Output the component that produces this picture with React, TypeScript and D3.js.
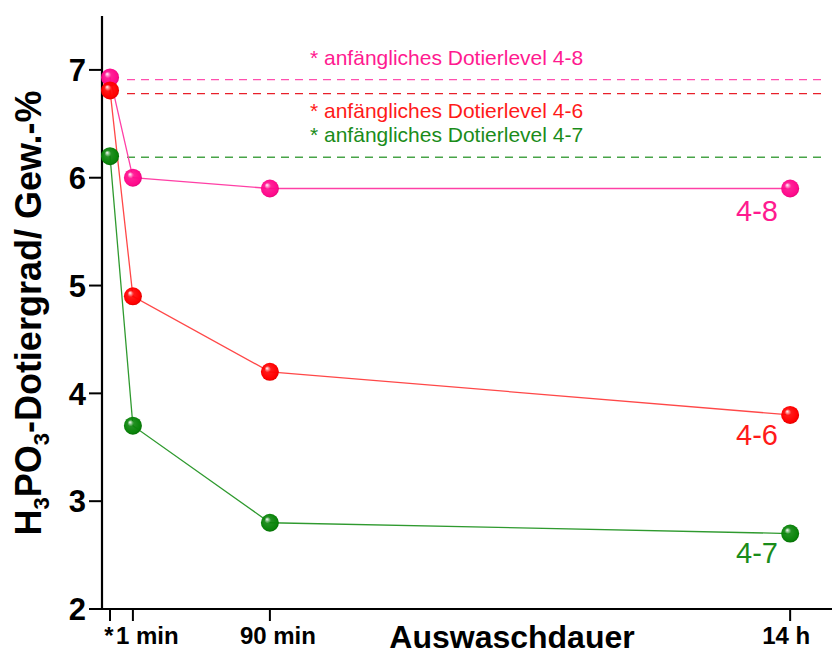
import React from "react";
import * as d3 from "d3";

const W = 832;
const H = 654;

// x positions (axis units) for each time step
const xPositions = [0.33, 1.27, 6.9, 28.28];
const xTickLabels = ["*", "1 min", "90 min", "14 h"];
const yTicks = [2, 3, 4, 5, 6, 7];

const seriesNames = ["4-8", "4-6", "4-7"];
const values48 = [6.93, 6.0, 5.9, 5.9];
const values46 = [6.81, 4.9, 4.2, 3.8];
const values47 = [6.2, 3.7, 2.8, 2.7];
const initialLevels = [6.91, 6.78, 6.19];
const annotationTexts = [
  "* anfängliches Dotierlevel 4-8",
  "* anfängliches Dotierlevel 4-6",
  "* anfängliches Dotierlevel 4-7",
];

const styles = [
  { line: "#ff40a6", marker: "#ff0a8c", dark: "#c8006a", dash: "#ff4fae", text: "#ff1a90", annY: 65, labelY: 221 },
  { line: "#ff4848", marker: "#ff0000", dark: "#c00000", dash: "#e8202a", text: "#ff1a1a", annY: 118, labelY: 445 },
  { line: "#2f9a2f", marker: "#0a840a", dark: "#005800", dash: "#48a448", text: "#1a8c1a", annY: 142, labelY: 563 },
];

export default function App() {
  const x = d3.scaleLinear().domain([0, 30]).range([102, 832]);
  const y = d3.scaleLinear().domain([2, 7.5]).range([609, 16]);
  const allValues = [values48, values46, values47];
  const line = d3
    .line<number>()
    .x((_, i) => x(xPositions[i]))
    .y((d) => y(d));

  const tickDx = [-1, -17, 8, -4];
  const tickAnchor = ["middle", "start", "middle", "middle"];
  const font = "Arial, 'Liberation Sans', sans-serif";

  return (
    <svg width={W} height={H} style={{ position: "absolute", left: 0, top: 0, background: "#fff" }} fontFamily={font}>
      <defs>
        {styles.map((s, i) => (
          <radialGradient key={i} id={`g${i}`} cx="0.5" cy="0.5" r="0.6" fx="0.33" fy="0.3">
            <stop offset="0%" stopColor="#ffffff" />
            <stop offset="30%" stopColor={s.marker} stopOpacity={0.9} />
            <stop offset="75%" stopColor={s.marker} />
            <stop offset="100%" stopColor={s.dark} />
          </radialGradient>
        ))}
      </defs>

      {/* dashed initial levels */}
      {initialLevels.map((v, i) => (
        <line key={i} x1={127} x2={822} y1={y(v)} y2={y(v)} stroke={styles[i].dash} strokeWidth={1.3} strokeDasharray="8,6" />
      ))}

      {/* annotations */}
      {annotationTexts.map((t, i) => (
        <text key={i} x={310} y={styles[i].annY} fontSize={21} fill={styles[i].text}>
          {t}
        </text>
      ))}

      {/* axes */}
      <line x1={102} x2={102} y1={16} y2={610} stroke="#000" strokeWidth={2.2} />
      <line x1={101} x2={832} y1={609} y2={609} stroke="#000" strokeWidth={2.2} />
      {yTicks.map((t) => (
        <g key={t}>
          <line x1={89} x2={102} y1={y(t)} y2={y(t)} stroke="#000" strokeWidth={2} />
          <text x={86} y={y(t)} dy="0.36em" textAnchor="end" fontSize={31} fontWeight="bold">
            {t}
          </text>
        </g>
      ))}
      {xPositions.map((p, i) => (
        <g key={i}>
          <line x1={x(p)} x2={x(p)} y1={609} y2={621} stroke="#000" strokeWidth={2} />
          <text x={x(p) + tickDx[i]} y={644} textAnchor={tickAnchor[i]} fontSize={24} fontWeight="bold">
            {xTickLabels[i]}
          </text>
        </g>
      ))}
      <text x={512} y={648} textAnchor="middle" fontSize={32} fontWeight="bold">
        Auswaschdauer
      </text>
      <text transform="translate(41,313) rotate(-90)" textAnchor="middle" fontSize={36} fontWeight="bold">
        H<tspan fontSize={22} dy={8}>3</tspan>
        <tspan dy={-8}>PO</tspan>
        <tspan fontSize={22} dy={8}>3</tspan>
        <tspan dy={-8}>-Dotiergrad/ Gew.-%</tspan>
      </text>

      {/* series */}
      {allValues.map((vals, i) => (
        <path key={i} d={line(vals) || ""} fill="none" stroke={styles[i].line} strokeWidth={1.3} />
      ))}
      {allValues.map((vals, i) =>
        vals.map((v, j) => (
          <circle key={`${i}-${j}`} cx={x(xPositions[j])} cy={y(v)} r={9} fill={`url(#g${i})`} />
        ))
      )}
      {seriesNames.map((n, i) => (
        <text key={n} x={757} y={styles[i].labelY} textAnchor="middle" fontSize={29} fill={styles[i].text}>
          {n}
        </text>
      ))}
    </svg>
  );
}
